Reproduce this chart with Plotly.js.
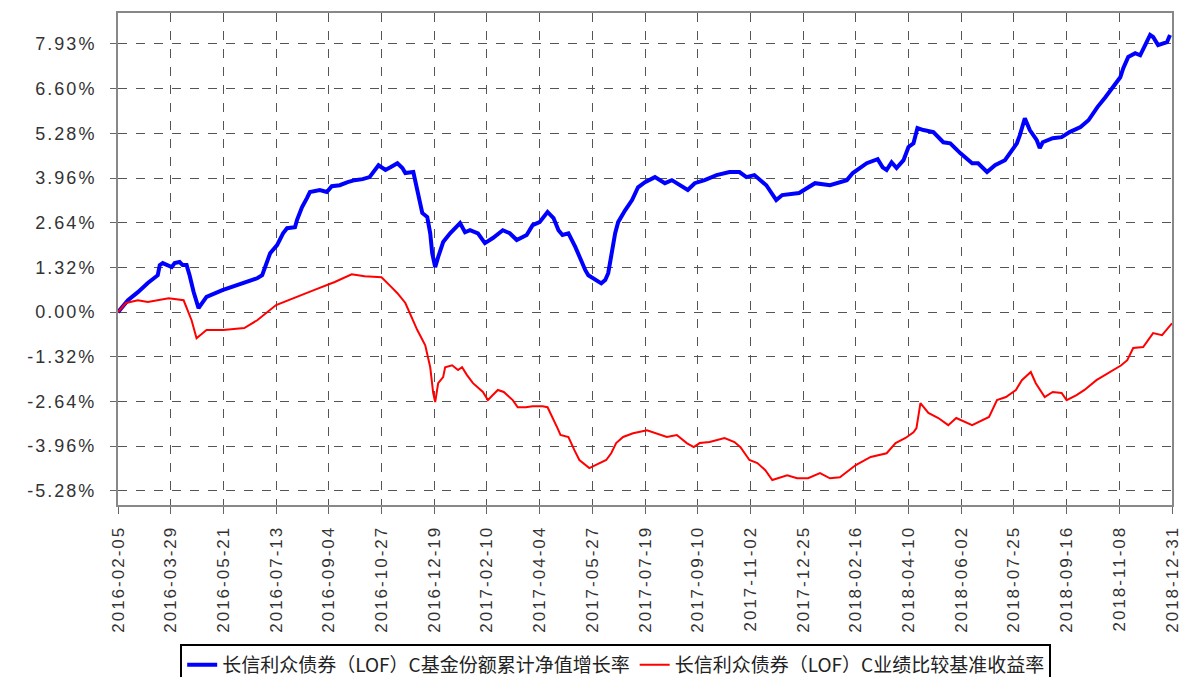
<!DOCTYPE html>
<html>
<head>
<meta charset="utf-8">
<script src="https://cdn.plot.ly/plotly-3.0.1.min.js"></script>
<style>
  html, body { margin: 0; padding: 0; background: #fff; }
  #chart { width: 1198px; height: 677px; }
  .xtick text, .ytick text { letter-spacing: 2px !important; }
</style>
</head>
<body>
<div id="chart"></div>
<script>
// ---- data ----
const startDate = '2016-02-05';
const endDate = '2018-12-31';

const tickLabels = ['2016-02-05','2016-03-29','2016-05-21','2016-07-13','2016-09-04','2016-10-27',
  '2016-12-19','2017-02-10','2017-04-04','2017-05-27','2017-07-19','2017-09-10','2017-11-02',
  '2017-12-25','2018-02-16','2018-04-10','2018-06-02','2018-07-25','2018-09-16','2018-11-08','2018-12-31'];

const yTickVals = [-5.28, -3.96, -2.64, -1.32, 0, 1.32, 2.64, 3.96, 5.28, 6.60, 7.93];
const yTickText = ['-5.28%','-3.96%','-2.64%','-1.32%','0.00%','1.32%','2.64%','3.96%','5.28%','6.60%','7.93%'];

// days since 2016-02-05
const fundDays = [0,10,20,30,40,42,45,50,54,57,62,65,69,72,76,81,89,105,120,140,145,150,153,160,166,170,178,180,185,190,193,203,210,215,223,231,238,246,253,262,269,274,281,286,289,297,299,302,306,311,314,316,319,322,327,334,344,349,354,362,369,377,387,394,401,411,417,424,432,438,443,447,453,460,465,470,473,480,486,490,493,500,503,510,517,523,530,540,550,557,565,573,580,590,602,615,625,632,640,652,662,668,685,701,716,726,733,739,753,764,769,773,778,783,790,795,800,804,810,820,830,837,847,859,865,874,882,892,897,904,907,912,917,924,927,930,940,949,957,968,976,985,993,1001,1008,1011,1016,1023,1028,1033,1038,1041,1046,1055,1058];
const fundVals = [0,0.35,0.59,0.86,1.09,1.39,1.45,1.39,1.33,1.45,1.48,1.39,1.39,1.09,0.60,0.12,0.45,0.65,0.80,1.00,1.09,1.45,1.74,1.98,2.33,2.48,2.51,2.72,3.10,3.37,3.55,3.61,3.55,3.72,3.75,3.84,3.90,3.93,3.99,4.34,4.20,4.28,4.40,4.26,4.11,4.14,3.84,3.40,2.93,2.81,2.33,1.74,1.33,1.63,2.07,2.33,2.63,2.36,2.42,2.33,2.04,2.19,2.42,2.33,2.13,2.28,2.57,2.66,2.96,2.78,2.42,2.28,2.33,1.92,1.54,1.24,1.09,0.95,0.85,0.95,1.15,2.33,2.66,3.01,3.31,3.69,3.84,3.99,3.81,3.90,3.75,3.61,3.81,3.90,4.05,4.14,4.14,3.99,4.05,3.75,3.31,3.46,3.52,3.81,3.75,3.84,3.90,4.11,4.40,4.52,4.28,4.20,4.43,4.26,4.49,4.88,4.99,5.44,5.38,5.32,5.02,4.99,4.70,4.40,4.40,4.14,4.34,4.49,4.70,4.99,5.23,5.73,5.38,5.08,4.85,5.02,5.14,5.17,5.32,5.47,5.67,6.06,6.35,6.65,6.94,7.21,7.54,7.65,7.59,7.89,8.19,8.13,7.89,7.98,8.19];

const benchDays = [0,8,20,30,51,66,74,79,89,106,127,140,159,177,197,218,235,248,265,275,281,289,301,309,314,317,319,322,327,329,336,342,346,351,357,367,372,375,382,388,397,402,410,417,427,432,437,442,445,453,459,464,474,484,491,496,501,508,518,532,542,552,562,572,579,585,595,610,620,626,635,643,651,658,673,683,694,706,716,726,742,757,773,782,792,800,803,807,815,825,835,843,859,869,876,884,893,903,909,918,923,932,940,949,954,964,972,984,997,1009,1015,1021,1031,1041,1050,1060];
const benchVals = [0,0.27,0.35,0.30,0.41,0.35,-0.24,-0.77,-0.53,-0.53,-0.47,-0.24,0.21,0.41,0.65,0.89,1.12,1.06,1.03,0.74,0.56,0.27,-0.53,-0.98,-1.63,-2.39,-2.66,-2.10,-1.92,-1.63,-1.57,-1.71,-1.63,-1.86,-2.10,-2.36,-2.60,-2.51,-2.30,-2.36,-2.60,-2.81,-2.81,-2.78,-2.78,-2.81,-3.10,-3.43,-3.63,-3.69,-4.08,-4.37,-4.61,-4.46,-4.37,-4.17,-3.87,-3.69,-3.58,-3.49,-3.58,-3.69,-3.63,-3.87,-3.99,-3.87,-3.84,-3.72,-3.84,-3.99,-4.37,-4.46,-4.67,-4.96,-4.82,-4.91,-4.91,-4.76,-4.91,-4.88,-4.52,-4.28,-4.17,-3.87,-3.72,-3.55,-3.43,-2.69,-2.98,-3.13,-3.34,-3.13,-3.34,-3.19,-3.10,-2.60,-2.51,-2.30,-2.01,-1.77,-2.10,-2.51,-2.36,-2.39,-2.60,-2.45,-2.30,-2.01,-1.77,-1.57,-1.42,-1.06,-1.03,-0.62,-0.68,-0.33];

const fundName = '长信利众债券（LOF）C基金份额累计净值增长率';
const benchName = '长信利众债券（LOF）C业绩比较基准收益率';

// ---- helpers ----
function dayToDate(d) {
  const t = new Date(startDate + 'T00:00:00Z');
  t.setUTCDate(t.getUTCDate() + d);
  return t.toISOString().slice(0, 10);
}

const traces = [
  {
    x: fundDays.map(dayToDate), y: fundVals, name: fundName,
    type: 'scatter', mode: 'lines',
    line: { color: '#0000ff', width: 4 }
  },
  {
    x: benchDays.map(dayToDate), y: benchVals, name: benchName,
    type: 'scatter', mode: 'lines',
    line: { color: '#ff0000', width: 2 }
  }
];

const layout = {
  width: 1198, height: 677,
  margin: { l: 118, r: 26, t: 13, b: 172, autoexpand: false },
  paper_bgcolor: '#ffffff', plot_bgcolor: '#ffffff',
  showlegend: true,
  xaxis: {
    type: 'date',
    range: [startDate, endDate],
    tickmode: 'array', tickvals: tickLabels, ticktext: tickLabels,
    tickangle: -90,
    ticks: 'outside', ticklen: 7, tickcolor: '#666',
    ticklabelstandoff: 5,
    tickfont: { family: 'Liberation Sans, Arial, sans-serif', size: 17, color: '#333' },
    showgrid: true, gridcolor: '#555', griddash: 'dash', gridwidth: 1,
    showline: true, linecolor: '#888', linewidth: 2, mirror: true,
    zeroline: false
  },
  yaxis: {
    range: [-5.70, 8.84],
    tickmode: 'array', tickvals: yTickVals, ticktext: yTickText,
    ticks: 'outside', ticklen: 6, tickcolor: '#666',
    ticklabelstandoff: 10,
    tickfont: { family: 'Liberation Sans, Arial, sans-serif', size: 18, color: '#333' },
    showgrid: true, gridcolor: '#555', griddash: 'dash', gridwidth: 1,
    showline: true, linecolor: '#888', linewidth: 2, mirror: true,
    zeroline: false
  },
  legend: {
    orientation: 'h',
    x: 0.059, xanchor: 'left',
    y: -0.2825, yanchor: 'top',
    bordercolor: '#000', borderwidth: 2, bgcolor: '#fff',
    font: { family: 'Noto Sans CJK SC, sans-serif', size: 19, color: '#222' },
    itemwidth: 30, tracegroupgap: 0
  }
};

Plotly.newPlot('chart', traces, layout, { staticPlot: true, displayModeBar: false });
</script>
</body>
</html>
